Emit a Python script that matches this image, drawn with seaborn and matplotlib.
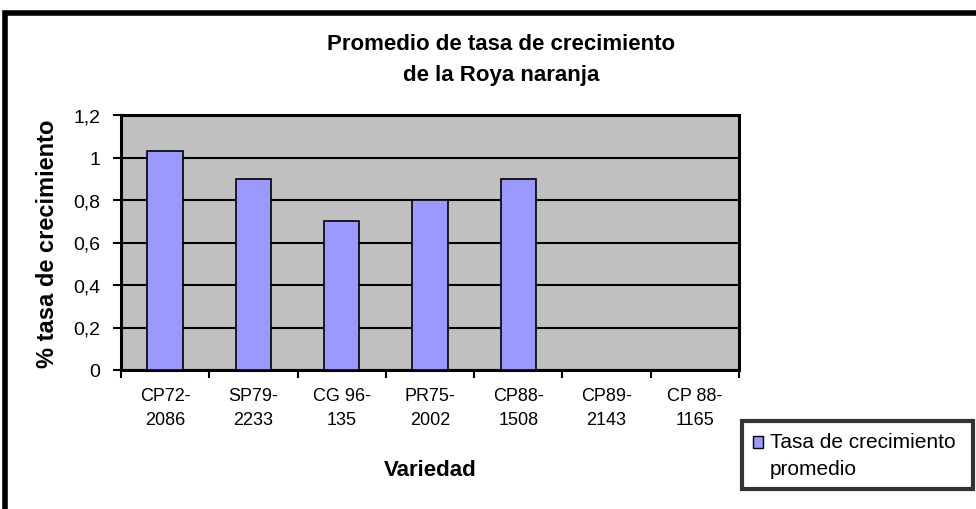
import matplotlib
matplotlib.use("Agg")
import matplotlib.pyplot as plt
import seaborn as sns
import numpy as np
import pandas as pd
from matplotlib.patches import Patch, Rectangle
from matplotlib.legend_handler import HandlerPatch
from matplotlib.ticker import FuncFormatter

categories = ["CP72-\n2086", "SP79-\n2233", "CG 96-\n135", "PR75-\n2002", "CP88-\n1508", "CP89-\n2143", "CP 88-\n1165"]
values = [1.03, 0.90, 0.70, 0.80, 0.90, np.nan, np.nan]
title_lines = ["Promedio de tasa de crecimiento", "de la Roya naranja"]
legend_label = "Tasa de crecimiento\npromedio"
yticks = [0, 0.2, 0.4, 0.6, 0.8, 1.0, 1.2]

sns.set_theme(style="white")
plt.rcParams['font.family'] = ['Liberation Sans', 'DejaVu Sans']
plt.rcParams['text.color'] = 'black'
plt.rcParams['axes.labelcolor'] = 'black'

df = pd.DataFrame({"Variedad": categories, "Tasa": values})

W, H = 976, 510
fig = plt.figure(figsize=(W / 100, H / 100), dpi=100)
fig.patch.set_facecolor("white")
ax = fig.add_axes([121 / W, 1 - 371 / H, (739 - 121) / W, (371 - 116) / H])

sns.barplot(data=df, x="Variedad", y="Tasa", order=categories, width=0.4,
            color="#9999FF", edgecolor="black", linewidth=1.2, saturation=1,
            errorbar=None, ax=ax, zorder=3)
for p in ax.patches:
    p.set_facecolor("#9999FF")

ax.set_facecolor("#C0C0C0")
ax.set_ylim(0, 1.2)
ax.set_xlim(-0.5, len(categories) - 0.5)
ax.set_yticks(yticks)
ax.yaxis.set_major_formatter(FuncFormatter(lambda v, p: ("%g" % round(v, 1)).replace(".", ",")))
ax.yaxis.grid(True, color="black", linewidth=1.5, zorder=0)
ax.set_axisbelow(True)
for s in ax.spines.values():
    s.set_color("black")
    s.set_linewidth(2.2)
    s.set_visible(True)

ax.tick_params(axis="y", which="major", direction="out", length=6, width=1.5,
               color="black", left=True, labelsize=14, pad=9, labelcolor="black")
ax.set_xticks(range(len(categories)))
ax.set_xticklabels(categories, fontsize=13, linespacing=1.55)
ax.tick_params(axis="x", which="major", length=0, pad=12, labelcolor="black")
ax.set_xticks(np.arange(-0.5, len(categories)), minor=True)
ax.tick_params(axis="x", which="minor", direction="out", length=6, width=1.5,
               color="black", bottom=True)

ax.set_xlabel("Variedad", fontsize=16, fontweight="bold", va="center", color="black")
ax.xaxis.set_label_coords(0.5, (371 - 471) / 255)
ax.set_ylabel("% tasa de crecimiento", fontsize=17, fontweight="bold", va="center", color="black")
ax.yaxis.set_label_coords((48 - 121) / 618, 0.5)

fig.text(0.513, 1 - 45 / H, title_lines[0], ha="center", va="center",
         fontsize=16, fontweight="bold", color="black")
fig.text(0.513, 1 - 75 / H, title_lines[1], ha="center", va="center",
         fontsize=16, fontweight="bold", color="black")


def raised_square(legend, orig_handle, xdescent, ydescent, width, height, fontsize):
    return Rectangle((-xdescent, -ydescent + 9.5), width, height)


leg = fig.legend(handles=[Patch(facecolor="#9999FF", edgecolor="black", label=legend_label)],
                 loc="upper left", bbox_to_anchor=(742 / W, 1 - 422 / H, 231 / W, 0.0),
                 mode="expand", fontsize=15, frameon=True, fancybox=False,
                 handlelength=0.48, handleheight=0.48, handletextpad=0.3,
                 borderpad=0.55, borderaxespad=0,
                 handler_map={Patch: HandlerPatch(patch_func=raised_square)})
for t in leg.get_texts():
    t.set_linespacing(1.5)
    t.set_color("black")
leg.get_frame().set_edgecolor("black")
leg.get_frame().set_linewidth(3)

fig.patches.append(Rectangle((5 / W, -0.2), 1.2, 1 - 14 / H + 0.2, transform=fig.transFigure,
                             fill=False, edgecolor="black", linewidth=4, clip_on=False))

fig.savefig("out.png", dpi=100, facecolor="white")
